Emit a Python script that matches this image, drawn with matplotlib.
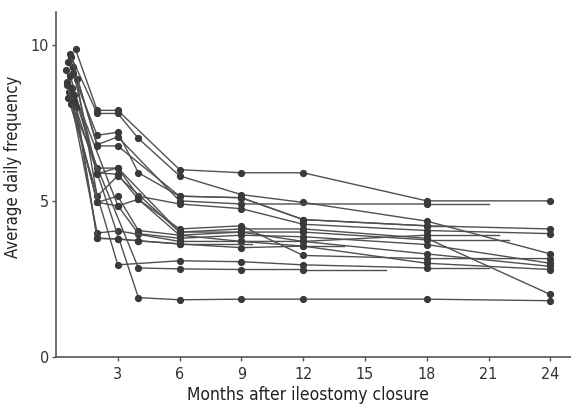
import matplotlib
matplotlib.use("Agg")
import matplotlib.pyplot as plt

plt.rcParams['font.family'] = ['DejaVu Sans']
plt.rcParams['font.stretch'] = 'condensed'

# follow-up times (months) and average daily frequency for each patient
months = [
    [0.95, 2, 3, 6, 9, 12, 18, 24],
    [0.75, 2, 3, 4, 6, 9, 12, 18, 24],
    [0.6, 2, 3, 4, 6, 9, 12, 18, 24],
    [0.85, 2, 3, 6, 9, 18],
    [0.5, 2, 3, 4, 6, 9, 12, 18, 24],
    [0.7, 2, 3, 4, 6, 9, 12, 18, 24],
    [1.0, 2, 3, 6, 9, 12, 18, 24],
    [0.55, 2, 3, 4, 6, 9, 12, 18],
    [0.8, 3, 4, 6, 9, 12, 18, 24],
    [0.65, 2, 3, 6, 9, 12, 18, 24],
    [0.9, 2, 3, 4, 6, 9, 12, 18, 24],
    [0.6, 3, 6, 9, 12, 18],
    [0.75, 4, 6, 9, 12],
    [0.95, 4, 6, 9, 12, 18, 24],
    [0.7, 2, 3, 6, 9, 12, 18],
    [0.85, 2, 3, 6, 9, 12, 18],
    [0.55, 2, 3, 4, 6, 9, 12],
    [0.9, 2, 3, 4, 6],
]
freq = [
    [9.85, 7.9, 7.9, 6.0, 5.9, 5.9, 5.0, 5.0],
    [9.6, 7.8, 7.8, 7.0, 5.8, 5.2, 4.95, 4.35, 3.3],
    [9.45, 7.1, 7.2, 5.9, 5.15, 5.1, 4.4, 4.2, 4.1],
    [9.3, 6.8, 7.05, 5.0, 4.9, 4.9],
    [9.2, 6.05, 6.05, 5.15, 4.9, 4.75, 4.25, 4.05, 3.95],
    [9.0, 5.9, 5.85, 5.05, 4.1, 4.2, 3.25, 3.15, 3.15],
    [8.9, 5.15, 5.8, 4.0, 4.1, 4.1, 3.8, 2.0],
    [8.8, 4.95, 5.15, 4.05, 3.9, 4.0, 4.0, 3.75],
    [8.6, 4.85, 3.95, 3.8, 3.9, 3.85, 3.6, 3.0],
    [8.5, 3.97, 4.04, 3.7, 3.7, 3.7, 3.3, 2.9],
    [8.4, 3.8, 3.78, 3.72, 3.62, 3.5, 3.55, 3.0, 2.8],
    [8.3, 2.95, 3.08, 3.05, 2.95, 2.85],
    [8.1, 2.85, 2.82, 2.8, 2.8],
    [8.0, 1.9, 1.83, 1.85, 1.85, 1.85, 1.8],
    [9.7, 6.76, 6.76, 5.15, 5.1, 4.4, 4.2],
    [9.1, 5.87, 6.06, 4.0, 4.0, 3.7, 3.9],
    [8.7, 4.95, 4.84, 5.05, 3.9, 3.7, 3.55],
    [8.2, 3.8, 3.78, 3.72, 3.62],
]
# month up to which the last value is carried on without a marker
tails = {3: 21, 7: 22, 11: 21, 12: 16, 14: 19.3, 15: 21.5, 16: 14, 17: 9.5}

fig = plt.figure(figsize=(5.71, 4.15), dpi=100)
ax = fig.add_axes([0.098, 0.14, 0.902, 0.831])

line_col = '#505050'
for i, (m, f) in enumerate(zip(months, freq)):
    if i in tails:
        ax.plot([m[-1], tails[i]], [f[-1], f[-1]], color=line_col, lw=1.0)
    ax.plot(m, f, color=line_col, lw=1.0, marker='o', markersize=4.2,
            markerfacecolor='#3a3a3a', markeredgecolor='#3a3a3a')

ax.set_xlim(0, 25)
ax.set_ylim(0, 11.05)
ax.spines['top'].set_visible(False)
ax.spines['right'].set_visible(False)
ax.spines['left'].set_color('#555555')
ax.spines['bottom'].set_color('#555555')
ax.spines['left'].set_linewidth(1.2)
ax.spines['bottom'].set_linewidth(1.2)

ax.set_xticks(range(3, 25, 3))
ax.set_yticks([0, 5, 10])
ax.tick_params(axis='both', length=3, width=1, color='#555555',
               labelsize=11.5, labelcolor='#333333')
ax.tick_params(axis='x', pad=4)
ax.tick_params(axis='y', pad=2)

ax.set_xlabel('Months after ileostomy closure', fontsize=12.5, color='#222222')
ax.set_ylabel('Average daily frequency', fontsize=12, color='#222222')
ax.xaxis.set_label_coords(0.49, -0.085)
ax.yaxis.set_label_coords(-0.066, 0.55)

fig.savefig('out.png', dpi=100)
